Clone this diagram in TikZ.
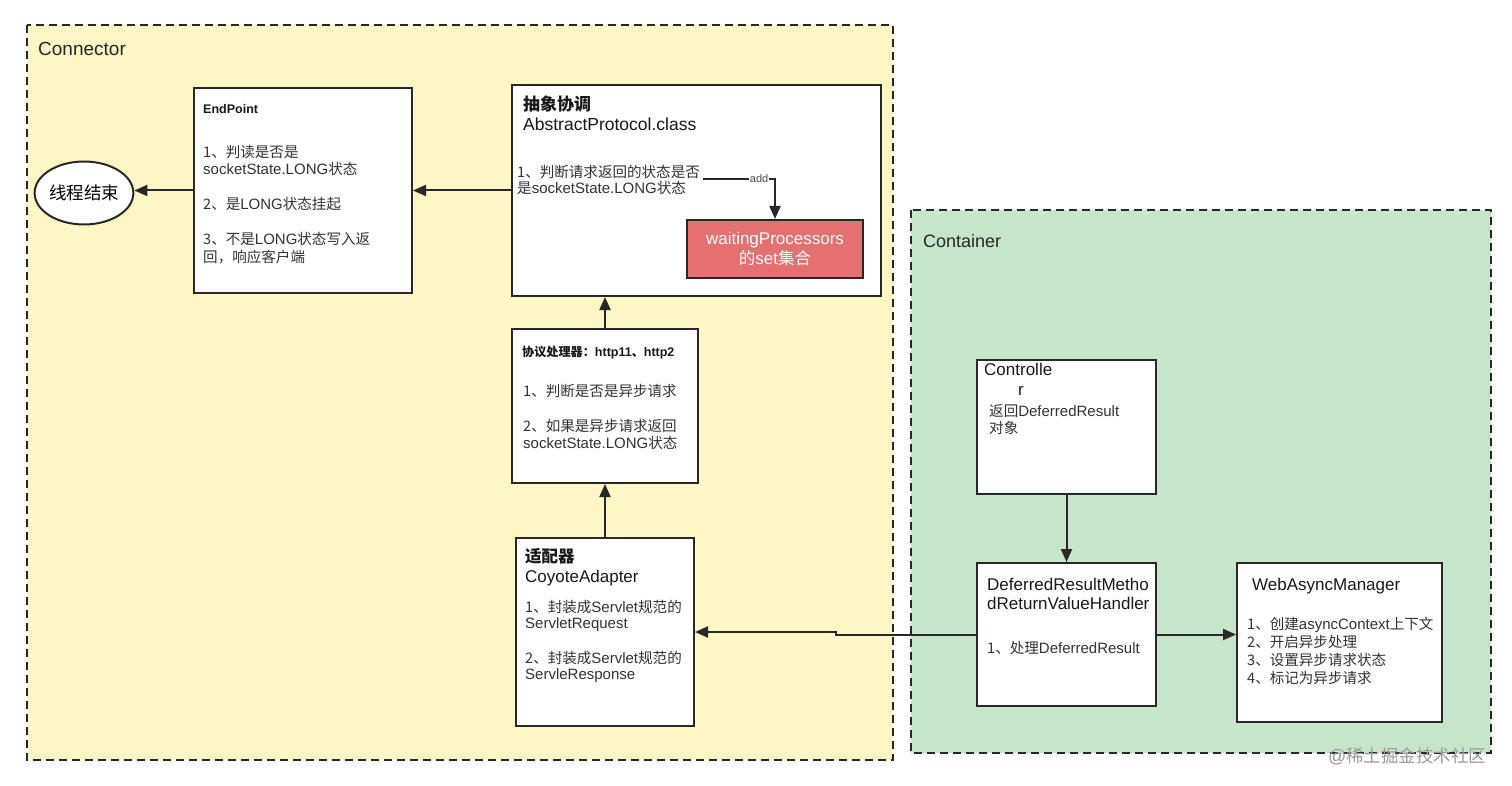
\documentclass[tikz,border=0pt]{standalone}
\usepackage{fontspec}
\setmainfont{Liberation Sans}
\newfontfamily\zhfont{Noto Sans CJK SC}[Scale=0.97]
\newcommand\zh[1]{{\zhfont #1}}
\newcommand\bodyup{\rule{0pt}{13pt}}
\newcommand\titleup{\rule{0pt}{15pt}}
\usetikzlibrary{calc, shapes.geometric, arrows.meta}

\definecolor{connbg}{RGB}{255,246,197}
\definecolor{contbg}{RGB}{199,230,201}
\definecolor{setred}{RGB}{229,112,112}
\definecolor{edge}{RGB}{40,40,40}

\tikzset{
  zone/.style={draw=edge, line width=1.6pt, dash pattern=on 8pt off 5pt},
  procbox/.style={draw=edge, fill=white, line width=2pt, inner sep=0pt},
  setbox/.style={procbox, fill=setred, text=white, align=center, font=\fontsize{17}{20}\selectfont},
  endfin/.style={ellipse, draw=edge, fill=white, line width=2pt, minimum width=98, minimum height=63, inner sep=0pt, font=\fontsize{18}{20}\selectfont},
  arr/.style={-{Triangle[length=13pt, width=11pt]}, draw=edge, line width=2pt},
  txt/.style={anchor=base west, align=left, inner sep=0pt, text=black!80, font=\fontsize{15}{17.5}\selectfont},
  multi/.style={anchor=north west},
  ttl/.style={txt, text=black!90, font=\fontsize{17}{20}\selectfont},
  sml/.style={txt, text=black!90, font=\fontsize{12.5}{15}\selectfont\bfseries},
  lbl/.style={anchor=base west, inner sep=0pt, text=black!85, font=\fontsize{19}{22}\selectfont},
}

\begin{document}
\begin{tikzpicture}[x=1pt, y=-1pt]
\useasboundingbox[fill=white] (0,0) rectangle (1512,786);

% the two zones
\draw[zone, fill=connbg] (27,25) rectangle (893,760);
\draw[zone, fill=contbg] (911,210) rectangle (1491,753);
\node[lbl] (connlbl) at (38,56) {Connector};
\node[lbl, font=\fontsize{18}{20}\selectfont] (contlbl) at (923,248) {Container};

% connector side
\node[endfin] (endfin) at (84,193) {\zh{线程结束}};
\node[procbox, minimum width=218, minimum height=205] (endpoint) at (303,190.5) {};
\node[sml] (endpointttl) at (203,114) {EndPoint};
\node[txt, multi] (endpointtxt) at (203,144) {\bodyup\zh{1、判读是否是}\\socketState.LONG\zh{状态}\\[17.5pt]\zh{2、是}LONG\zh{状态挂起}\\[17.5pt]\zh{3、不是}LONG\zh{状态写入返}\\\zh{回，响应客户端}};

\node[procbox, minimum width=369, minimum height=211] (abstract) at (696.5,190.5) {};
\node[ttl, multi, font=\fontsize{17.5}{20}\selectfont] (abstractttl) at (523,95) {\titleup\zh{\bfseries 抽象协调}\\AbstractProtocol.class};
\node[txt, multi, font=\fontsize{15}{16.5}\selectfont] (abstracttxt) at (517,164) {\bodyup\zh{1、判断请求返回的状态是否}\\\zh{是}socketState.LONG\zh{状态}};
\node[setbox, minimum width=176, minimum height=58] (procset) at (775,249) {waitingProcessors\\\zh{的}set\zh{集合}};
\coordinate (addfrom) at (703,179);
\draw[arr] (addfrom) -| node[pos=.39, fill=white, inner sep=1pt, text=black!70, font=\fontsize{11}{12}\selectfont] (addlbl) {add} (procset.north);

\node[procbox, minimum width=186, minimum height=154] (proto) at (605,406) {};
\node[sml] (protottl) at (522,356) {\zh{协议处理器：}http11\zh{、}http2};
\node[txt, multi] (prototxt) at (523,383) {\bodyup\zh{1、判断是否是异步请求}\\[17.5pt]\zh{2、如果是异步请求返回}\\socketState.LONG\zh{状态}};

\node[procbox, minimum width=178, minimum height=188] (coyote) at (605,632) {};
\node[ttl, multi] (coyotettl) at (525,547) {\titleup\zh{\bfseries 适配器}\\CoyoteAdapter};
\node[txt, multi, font=\fontsize{15}{16.5}\selectfont] (coyotetxt) at (525,599) {\bodyup\zh{1、封装成}Servlet\zh{规范的}\\ServletRequest\\[18pt]\zh{2、封装成}Servlet\zh{规范的}\\ServleResponse};

% container side
\node[procbox, minimum width=179, minimum height=134] (ctrl) at (1066.5,427) {};
\node[ttl] (ctrlttl) at (984,375) {Controlle};
\node[ttl] (ctrlr) at (1018,395) {r};
\node[txt, multi] (ctrltxt) at (989,403) {\bodyup\zh{返回}DeferredResult\\\zh{对象}};

\node[procbox, minimum width=179, minimum height=143] (handler) at (1066.5,634.5) {};
\node[ttl, multi, font=\fontsize{17}{19}\selectfont] (handlerttl) at (987,575) {\titleup DeferredResultMetho\\dReturnValueHandler};
\node[txt] (handlertxt) at (987,653) {\zh{1、处理}DeferredResult};

\node[procbox, minimum width=205, minimum height=159] (web) at (1339.5,642.5) {};
\node[ttl] (webttl) at (1252,590) {WebAsyncManager};
\node[txt, multi, font=\fontsize{15}{18}\selectfont] (webtxt) at (1247,616) {\bodyup\zh{1、创建}asyncContext\zh{上下文}\\\zh{2、开启异步处理}\\\zh{3、设置异步请求状态}\\\zh{4、标记为异步请求}};

\node[anchor=base west, inner sep=0pt, text=black!40, font=\fontsize{18}{20}\selectfont] (mark) at (1328,762) {@\zh{稀土掘金技术社区}};

% connectors
\draw[arr] (endpoint.west) -- (endpoint.west -| endfin.east);
\draw[arr] (abstract.west) -- (abstract.west -| endpoint.east);
\draw[arr] (proto.north) -- (proto.north |- abstract.south);
\draw[arr] (coyote.north) -- (proto.south);
\draw[arr] (ctrl.south) -- (handler.north);
\draw[arr] (handler.east) -- (handler.east -| web.west);
\draw[arr] (handler.west) -| ($(handler.west)!.5!(coyote.east)$) |- (coyote.east);
\end{tikzpicture}
\end{document}
